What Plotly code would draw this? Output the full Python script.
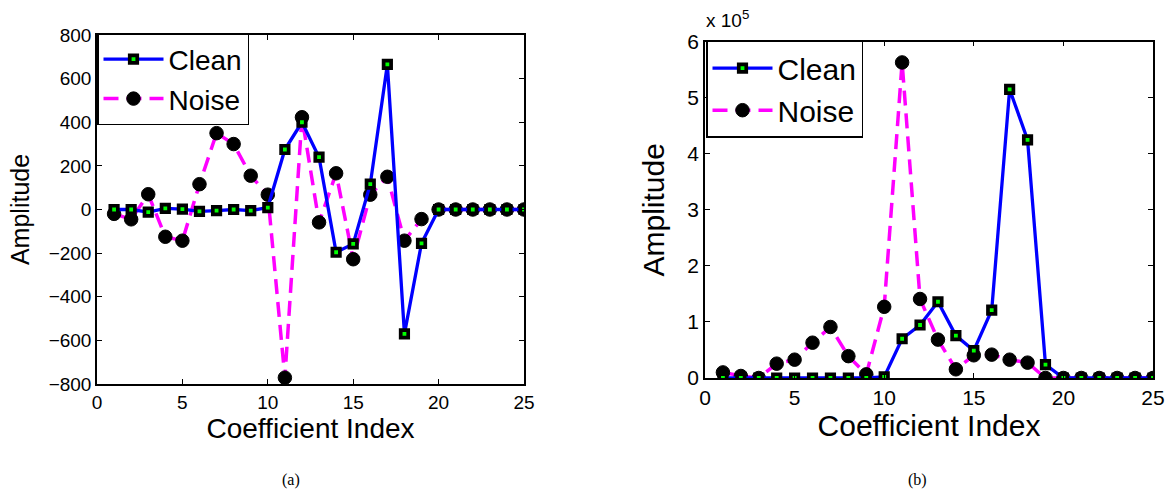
import plotly.graph_objects as go

# ---------------- data ----------------
idx = list(range(1, 26))

# (a) signed amplitudes
clean_a = [0, 0, -12, 5, 2, -9, -5, 0, -5, 9, 275, 400, 240, -196, -158, 116, 665, -570, -155,
           0, 0, 0, 0, 0, 0]
noise_a = [-20, -45, 70, -125, -143, 116, 350, 300, 155, 68, -771, 423, -59, 166, -228, 68, 150, -143, -44,
           0, 0, 0, 0, 0, 0]

# (b) amplitudes in units of 1e5
clean_b = [0, 0, 0, 0, 0, 0, 0, 0, 0, 0.02, 0.70, 0.946, 1.36, 0.756, 0.49, 1.21, 5.15, 4.25, 0.24,
           0, 0, 0, 0, 0, 0]
noise_b = [0.1, 0.036, 0.0, 0.256, 0.327, 0.63, 0.91, 0.39, 0.065, 1.27, 5.63, 1.41, 0.685, 0.155, 0.405,
           0.417, 0.327, 0.274, 0.0, 0, 0, 0, 0, 0, 0]

x_ticks = [0, 5, 10, 15, 20, 25]
ya_ticks = [-800, -600, -400, -200, 0, 200, 400, 600, 800]
ya_text = ["\u2212800", "\u2212600", "\u2212400", "\u2212200", "0", "200", "400", "600", "800"]
yb_ticks = [0, 1, 2, 3, 4, 5, 6]

FONT = "Liberation Sans, Arial, sans-serif"
W, H = 1170, 495

def px_x(p):
    return p / W

def px_y(p):
    return (H - p) / H

fig = go.Figure()

clean_marker = dict(symbol="square", size=7.5, color="#00ff00", line=dict(color="black", width=3.7))
noise_marker = dict(symbol="circle", size=13.5, color="black", line=dict(color="black", width=1))

fig.add_trace(go.Scatter(x=idx, y=noise_a, mode="lines+markers", name="Noise",
                         line=dict(color="#ff00ff", width=3.5, dash="15px,8px"),
                         marker=noise_marker, xaxis="x", yaxis="y", legend="legend",
                         legendrank=2))
fig.add_trace(go.Scatter(x=idx, y=clean_a, mode="lines+markers", name="Clean",
                         line=dict(color="#0000ff", width=3.3),
                         marker=clean_marker, xaxis="x", yaxis="y", legend="legend",
                         legendrank=1))

fig.add_trace(go.Scatter(x=idx, y=noise_b, mode="lines+markers", name="Noise",
                         line=dict(color="#ff00ff", width=3.5, dash="15px,8px"),
                         marker=noise_marker, xaxis="x2", yaxis="y2", legend="legend2",
                         legendrank=2))
fig.add_trace(go.Scatter(x=idx, y=clean_b, mode="lines+markers", name="Clean",
                         line=dict(color="#0000ff", width=3.3),
                         marker=clean_marker, xaxis="x2", yaxis="y2", legend="legend2",
                         legendrank=1))

axis_common = dict(showline=True, linecolor="black", linewidth=1.5, mirror="ticks",
                   ticks="inside", ticklen=5, tickwidth=1.2, tickcolor="black",
                   showgrid=False, zeroline=False, automargin=False)

fig.update_layout(
    width=W, height=H,
    margin=dict(l=0, r=0, t=0, b=0, autoexpand=False),
    paper_bgcolor="white", plot_bgcolor="white",
    font=dict(family=FONT, color="black"),
    showlegend=True,
    xaxis=dict(domain=[px_x(97), px_x(524)], range=[0, 25], tickvals=x_ticks,
               tickfont=dict(size=19),
               title=dict(text="Coefficient Index", font=dict(size=28), standoff=6),
               anchor="y", **axis_common),
    yaxis=dict(domain=[px_y(384), px_y(35)], range=[-800, 800], tickvals=ya_ticks, ticktext=ya_text,
               tickfont=dict(size=19),
               title=dict(text="Amplitude", font=dict(size=25), standoff=12),
               anchor="x", **axis_common),
    xaxis2=dict(domain=[px_x(705), px_x(1153)], range=[0, 25], tickvals=x_ticks,
                tickfont=dict(size=21),
                title=dict(text="Coefficient Index", font=dict(size=30), standoff=4),
                anchor="y2", **axis_common),
    yaxis2=dict(domain=[px_y(378), px_y(41.7)], range=[0, 6], tickvals=yb_ticks,
                tickfont=dict(size=21),
                title=dict(text="Amplitude", font=dict(size=30), standoff=14),
                anchor="x2", **axis_common),
    legend=dict(x=px_x(97), y=px_y(33), xanchor="left", yanchor="top",
                bgcolor="white", bordercolor="black", borderwidth=1.5,
                font=dict(size=28, family=FONT), itemwidth=60, tracegroupgap=0,
                traceorder="normal"),
    legend2=dict(x=px_x(706), y=px_y(40.7), xanchor="left", yanchor="top",
                 bgcolor="white", bordercolor="black", borderwidth=1.5,
                 font=dict(size=30, family=FONT), itemwidth=60, tracegroupgap=0,
                 traceorder="normal"),
    annotations=[
        dict(text="x 10<sup>5</sup>", x=px_x(704), y=px_y(33), xref="paper", yref="paper",
             xanchor="left", yanchor="bottom", showarrow=False,
             font=dict(size=19, family=FONT)),
        dict(text="(a)", x=px_x(291), y=px_y(480), xref="paper", yref="paper",
             xanchor="center", yanchor="middle", showarrow=False,
             font=dict(size=16, family="Liberation Serif, Times New Roman, serif")),
        dict(text="(b)", x=px_x(917), y=px_y(480), xref="paper", yref="paper",
             xanchor="center", yanchor="middle", showarrow=False,
             font=dict(size=16, family="Liberation Serif, Times New Roman, serif")),
    ],
)

fig.write_html("out.html", config={"displayModeBar": False},
               post_script="document.body.style.margin='0px';document.body.style.overflow='hidden';")
